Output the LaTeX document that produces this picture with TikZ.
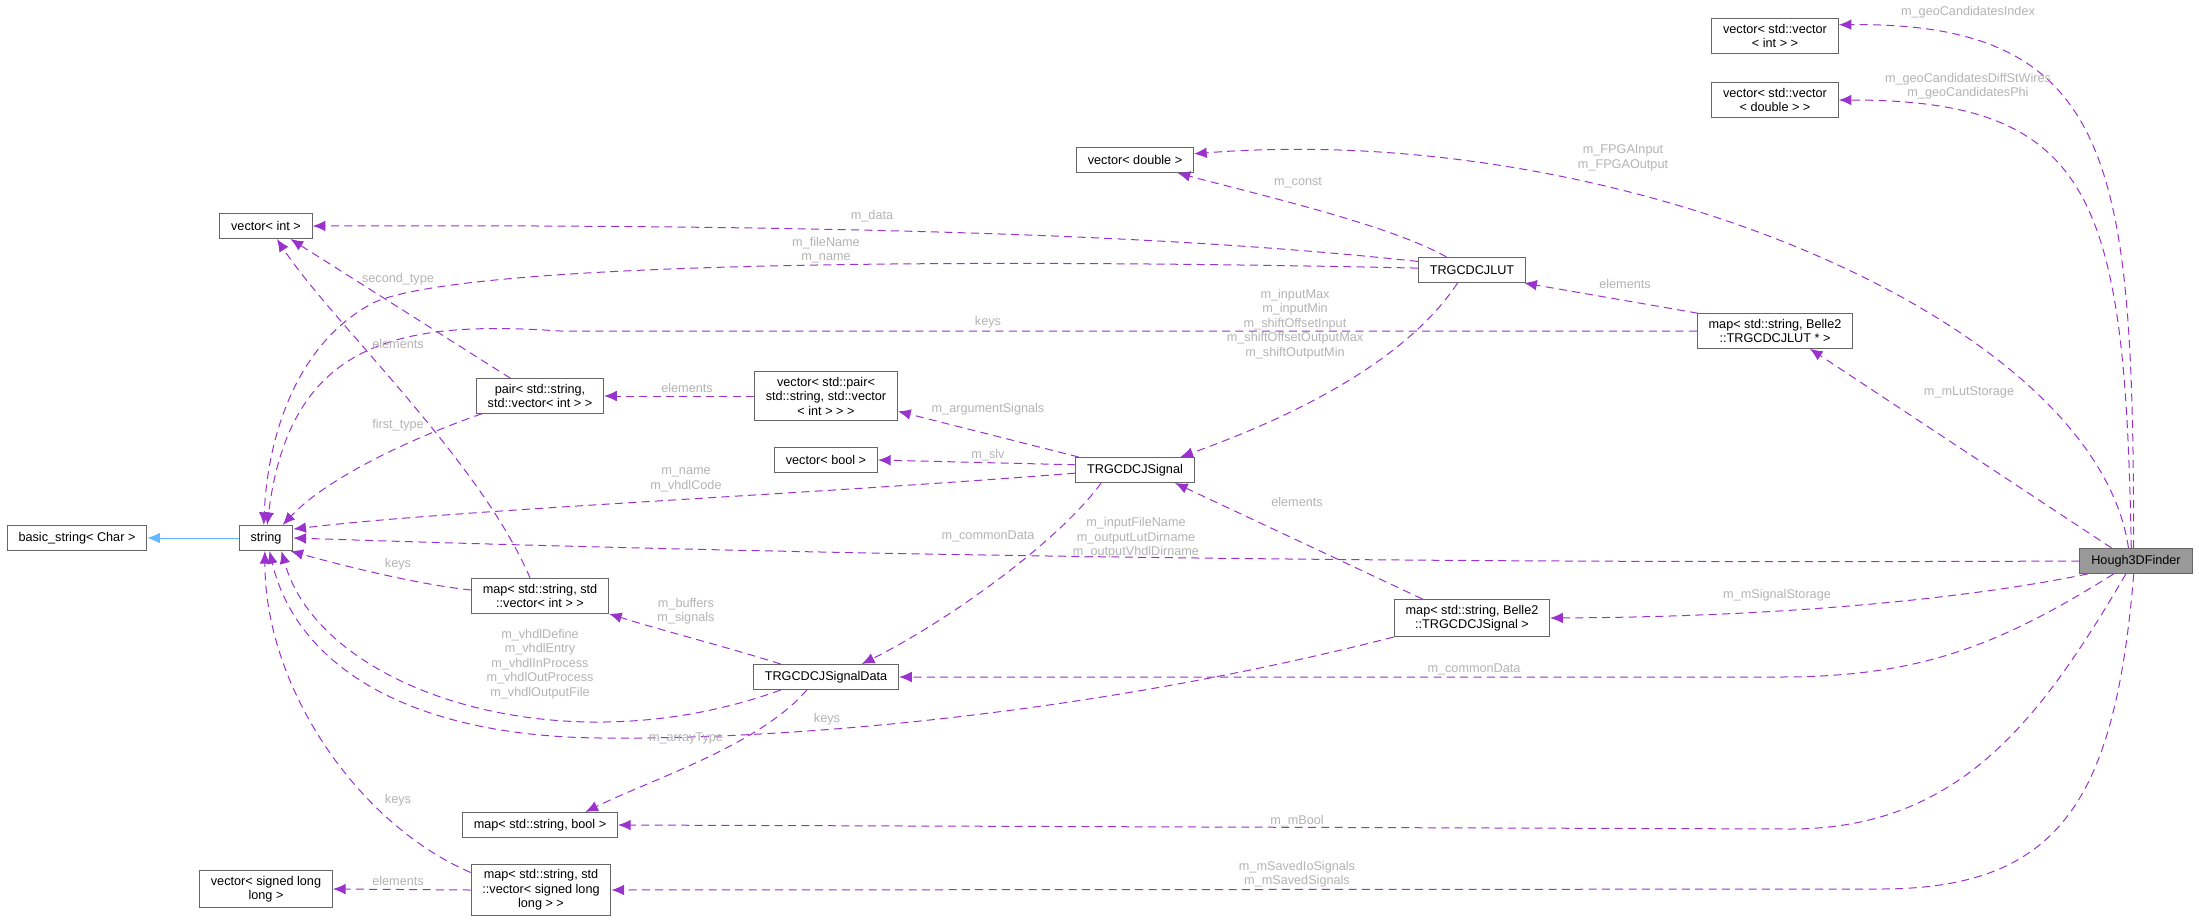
\documentclass[tikz,border=0pt]{standalone}
\usepackage{fontspec}
\setmainfont{Liberation Sans}
\usetikzlibrary{arrows.meta}

\definecolor{edgepurple}{HTML}{9A32CD}
\definecolor{inhblue}{HTML}{63B8FF}
\definecolor{boxgray}{HTML}{666666}
\definecolor{lblgray}{HTML}{B4B4B4}
\definecolor{mainfill}{HTML}{999999}

\tikzset{
  cls/.style={draw=boxgray, line width=0.75pt, fill=white, align=center,
    font=\fontsize{9.5}{10.9}\selectfont, inner xsep=8.5pt, inner ysep=4pt,
    minimum height=18.75pt},
  lbl/.style={text=lblgray, align=center, inner sep=0pt,
    font=\fontsize{9.5}{10.9}\selectfont},
  memb/.style={draw=edgepurple, line width=0.75pt, dash pattern=on 6pt off 4pt,
    -{Latex[length=9.5pt,width=8pt]}},
  inh/.style={draw=inhblue, line width=0.75pt, -{Latex[length=9.5pt,width=8pt]}}
}

\begin{document}
\begin{tikzpicture}[x=0.75pt,y=-0.75pt]
    \path[fill=white] (0,0) rectangle (2199,922);
    \useasboundingbox (0,0) rectangle (2199,922);

    \node[cls] (vvi) at (1775,36) {vector< std::vector\\< int > >};
    \node[cls] (vvd) at (1775,100) {vector< std::vector\\< double > >};
    \node[cls] (vd) at (1135,160) {vector< double >};
    \node[cls] (lut) at (1472,270) {TRGCDCJLUT};
    \node[cls] (maplut) at (1775,331) {map< std::string, Belle2\\::TRGCDCJLUT * >};
    \node[cls] (vi) at (266,226) {vector< int >};
    \node[cls] (pair) at (540,396) {pair< std::string,\\ std::vector< int > >};
    \node[cls] (vpair) at (826,396) {vector< std::pair<\\ std::string, std::vector\\< int > > >};
    \node[cls] (vb) at (826,460) {vector< bool >};
    \node[cls] (sig) at (1135,470) {TRGCDCJSignal};
    \node[cls] (bs) at (77,538) {basic\_string< Char >};
    \node[cls] (str) at (266,538) {string};
    \node[cls,fill=mainfill] (hough) at (2136,561) {Hough3DFinder};
    \node[cls] (mapvi) at (540,596) {map< std::string, std\\::vector< int > >};
    \node[cls] (mapsig) at (1472,618) {map< std::string, Belle2\\::TRGCDCJSignal >};
    \node[cls] (sigdata) at (826,677) {TRGCDCJSignalData};
    \node[cls] (mapbool) at (540,825) {map< std::string, bool >};
    \node[cls] (mapvsll) at (541,890) {map< std::string, std\\::vector< signed long\\long > >};
    \node[cls] (vsll) at (266,889) {vector< signed long\\long >};

    % members of Hough3DFinder
    \draw[memb] (hough.100) .. controls (2133,170) and (2118,22) .. (vvi.10);
    \draw[memb] (hough.110) .. controls (2125,200) and (2095,100) .. (vvd.east);
    \draw[memb] (hough.120) .. controls (2095,320) and (1620,120) .. (vd.6);
    \draw[memb] (hough.152) -- (maplut.333);
    \draw[memb] (hough.west) .. controls (1200,565) and (600,548) .. (str.east);
    \draw[memb] (hough.195) .. controls (1950,602) and (1760,617) .. (mapsig.east);
    \draw[memb] (hough.210) .. controls (2000,645) and (1920,677) .. (1780,677) -- (sigdata.east);
    \draw[memb] (hough.232) .. controls (2040,720) and (1960,829) .. (1790,829) -- (mapbool.east);
    \draw[memb] (hough.260) .. controls (2115,800) and (2060,889) .. (1880,889) -- (mapvsll.east);

    \draw[memb] (lut.153) .. controls (1390,225) and (1260,195) .. (vd.-17);
    \draw[memb] (lut.171) .. controls (1200,238) and (900,224) .. (vi.east);
    \draw[memb] (lut.178) .. controls (950,258) and (470,262) .. (375,302)
        .. controls (300,340) and (268,430) .. (str.100);
    \draw[memb] (lut.222) .. controls (1400,370) and (1270,425) .. (sig.16);
    \draw[memb] (maplut.167) -- (lut.-14);
    \draw[memb] (maplut.west) -- (560,331) .. controls (400,320) and (290,340) .. (str.85);

    \draw[memb] (pair.149) -- (vi.-28);
    \draw[memb] (pair.197) .. controls (420,435) and (330,475) .. (str.38);
    \draw[memb] (vpair.west) -- (pair.east);

    \draw[memb] (sig.167) -- (vpair.-12);
    \draw[memb] (sig.175) -- (vb.east);
    \draw[memb] (sig.183) .. controls (800,495) and (450,510) .. (str.18);
    \draw[memb] (sig.201) .. controls (1060,540) and (950,620) .. (sigdata.20);

    \draw[memb] (mapvi.119) .. controls (480,460) and (330,320) .. (vi.-50);
    \draw[memb] (mapvi.175) .. controls (420,585) and (340,565) .. (str.-28);

    \draw[memb] (sigdata.164) .. controls (720,645) and (660,630) .. (mapvi.south east);
    \draw[memb] (sigdata.196) .. controls (560,770) and (320,690) .. (str.-40);
    \draw[memb] (sigdata.214) .. controls (760,745) and (650,780) .. (mapbool.16);

    \draw[memb] (mapsig.159) -- (sig.-18);
    \draw[memb] (mapsig.south west) .. controls (1100,712) and (800,740) .. (600,738)
        .. controls (400,736) and (295,660) .. (str.-75);

    \draw[memb] (mapvsll.166) .. controls (360,825) and (265,690) .. (str.-95);
    \draw[memb] (mapvsll.west) -- (vsll.east);

    \draw[inh] (str.west) -- (bs.east);

    % edge labels
    \node[lbl] (lGeoIdx) at (1968,12) {m\_geoCandidatesIndex};
    \node[lbl] (lGeoPhi) at (1968,86) {m\_geoCandidatesDiffStWires\\m\_geoCandidatesPhi};
    \node[lbl] (lFpga) at (1623,158) {m\_FPGAInput\\m\_FPGAOutput};
    \node[lbl] (lConst) at (1298,183) {m\_const};
    \node[lbl] (lData) at (872,216) {m\_data};
    \node[lbl] (lFile) at (826,250) {m\_fileName\\m\_name};
    \node[lbl] (lSecond) at (398,279) {second\_type};
    \node[lbl] (lElemVi) at (398,344) {elements};
    \node[lbl] (lInput) at (1295,324) {m\_inputMax\\m\_inputMin\\m\_shiftOffsetInput\\m\_shiftOffsetOutputMax\\m\_shiftOutputMin};
    \node[lbl] (lKeysLut) at (988,322) {keys};
    \node[lbl] (lElemLut) at (1625,284) {elements};
    \node[lbl] (lLutSt) at (1969,392) {m\_mLutStorage};
    \node[lbl] (lElemPair) at (687,388) {elements};
    \node[lbl] (lArgSig) at (988,409) {m\_argumentSignals};
    \node[lbl] (lSlv) at (988,455) {m\_slv};
    \node[lbl] (lNameVhdl) at (686,480) {m\_name\\m\_vhdlCode};
    \node[lbl] (lFirst) at (398,425) {first\_type};
    \node[lbl] (lDirs) at (1136,538) {m\_inputFileName\\m\_outputLutDirname\\m\_outputVhdlDirname};
    \node[lbl] (lCommonSig) at (988,536) {m\_commonData};
    \node[lbl] (lElemSig) at (1297,502) {elements};
    \node[lbl] (lKeysVi) at (398,564) {keys};
    \node[lbl] (lSigSt) at (1777,595) {m\_mSignalStorage};
    \node[lbl] (lBuf) at (686,611) {m\_buffers\\m\_signals};
    \node[lbl] (lVhdl) at (540,664) {m\_vhdlDefine\\m\_vhdlEntry\\m\_vhdlInProcess\\m\_vhdlOutProcess\\m\_vhdlOutputFile};
    \node[lbl] (lCommonH) at (1474,669) {m\_commonData};
    \node[lbl] (lKeysSig) at (827,719) {keys};
    \node[lbl] (lArray) at (686,738) {m\_arrayType};
    \node[lbl] (lKeysVsll) at (398,800) {keys};
    \node[lbl] (lBool) at (1297,821) {m\_mBool};
    \node[lbl] (lSaved) at (1297,874) {m\_mSavedIoSignals\\m\_mSavedSignals};
    \node[lbl] (lElemVsll) at (398,881) {elements};
\end{tikzpicture}
\end{document}
